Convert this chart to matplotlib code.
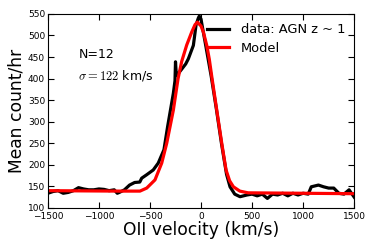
import matplotlib
matplotlib.use("Agg")
import matplotlib.pyplot as plt
from matplotlib.ticker import MultipleLocator

plt.rcParams['mathtext.fontset'] = 'cm'

# data: stacked spectrum
data_v = [-1500, -1450, -1400, -1350, -1300, -1250, -1200, -1150, -1100, -1050,
          -1000, -950, -900, -850, -820, -800, -750, -700, -650, -600, -581,
          -532, -468, -419, -363, -327, -271, -255, -250, -242, -222, -189,
          -150, -124, -75, -49, -27, -17, 0, 10, 46, 100, 150, 200, 250, 284,
          330, 382, 450, 500, 550, 600, 650, 700, 750, 800, 850, 900, 950,
          1000, 1050, 1080, 1150, 1200, 1250, 1300, 1350, 1400, 1450, 1500]
data_y = [134, 138, 140, 134, 136, 140, 147, 144, 142, 142,
          144, 143, 140, 142, 134, 136, 142, 153, 159, 160, 169,
          177, 188, 204, 235, 289, 366, 395, 439, 408, 412, 422,
          434, 446, 477, 524, 540, 545, 538, 524, 477, 405, 330, 250, 178, 149,
          132, 126, 130, 132, 128, 132, 122, 132, 130, 134, 128, 134, 130,
          134, 132, 149, 153, 149, 146, 146, 134, 132, 142, 125]

# model fit
model_v = [-1500, -800, -650, -598, -532, -451, -385, -336, -271, -225,
           -189, -140, -91, -59, -36, 0, 23, 56, 81, 105, 154, 203, 245,
           280, 317, 380, 461, 1500]
model_y = [140, 139, 139, 139, 146, 165, 204, 250, 327, 400,
           440, 478, 508, 525, 531, 522, 508, 477, 445, 405, 327, 250, 188,
           163, 149, 139, 135, 133]

fig = plt.figure(figsize=(3.74, 2.49), dpi=100)
ax = fig.add_axes([0.128, 0.165, 0.819, 0.779])
ax.plot(data_v, data_y, color='black', lw=2.3, label='data: AGN z ~ 1')
ax.plot(model_v, model_y, color='red', lw=2.3, label='Model')
ax.set_xlim(-1500, 1500)
ax.set_ylim(100, 550)
ax.xaxis.set_major_locator(MultipleLocator(500))
ax.yaxis.set_major_locator(MultipleLocator(50))
ax.tick_params(direction='in', top=True, right=True, labelsize=6.5, length=4)
ax.tick_params(axis='x', pad=3)
ax.tick_params(axis='y', pad=2)
ax.set_xlabel('OII velocity (km/s)', fontsize=12.3, labelpad=0)
ax.set_ylabel('Mean count/hr', fontsize=12.3, labelpad=2)
ax.text(0.10, 0.773, 'N=12', transform=ax.transAxes, fontsize=9)
ax.text(0.098, 0.66, r'$\sigma=122$ km/s', transform=ax.transAxes, fontsize=9)
leg = ax.legend(loc='upper right', frameon=False, fontsize=9.4, handlelength=1.75,
                handletextpad=0.85, borderaxespad=0.3, labelspacing=0.45)
fig.savefig('out.png', dpi=100)
